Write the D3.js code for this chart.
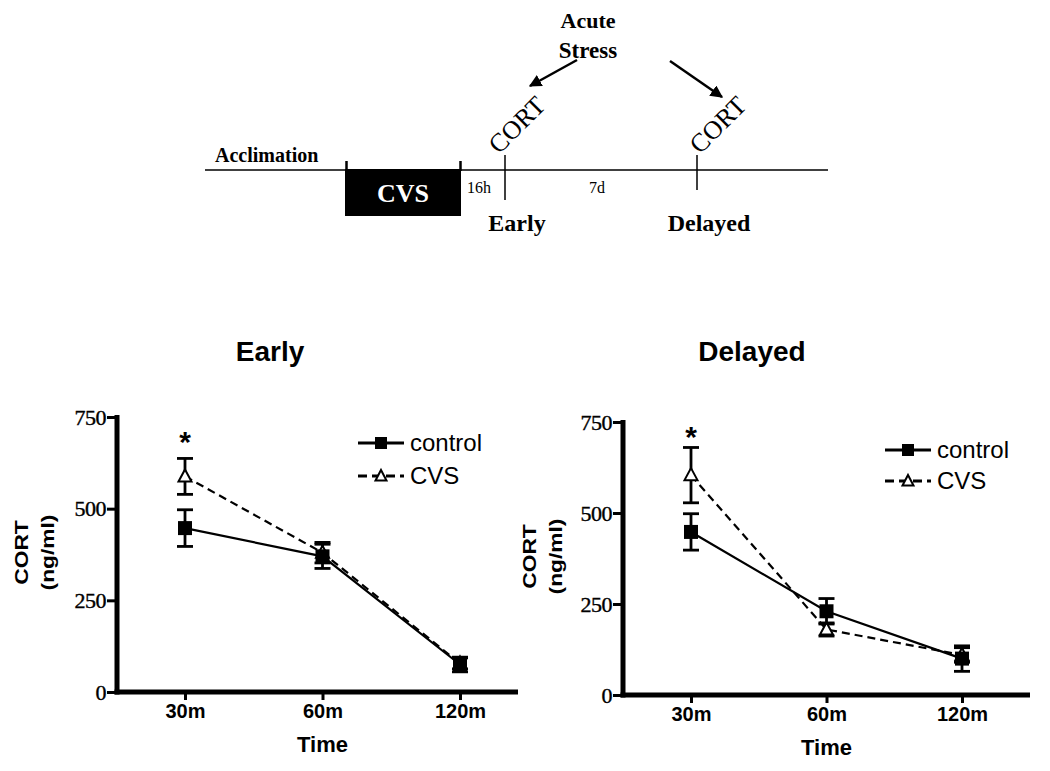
<!DOCTYPE html>
<html>
<head>
<meta charset="utf-8">
<script src="https://cdn.jsdelivr.net/npm/d3@7"></script>
<style>
  body { margin: 0; background: #fff; }
  svg { display: block; }
</style>
</head>
<body>
<div id="graph"></div>
<script>
// data
var timePoints = ["30m", "60m", "120m"];
var yTicks = [0, 250, 500, 750];

var earlyControl = [447, 370, 75];
var earlyControlErr = [50, 33, 20];
var earlyCVS = [588, 380, 78];
var earlyCVSErr = [49, 28, 15];

var delayedControl = [448, 230, 100];
var delayedControlErr = [50, 35, 35];
var delayedCVS = [604, 180, 110];
var delayedCVSErr = [76, 18, 20];

var seriesNames = ["control", "CVS"];

var svg = d3.select("#graph").append("svg")
    .attr("width", 1050)
    .attr("height", 771);

// ---- timeline diagram on top ----
var diag = svg.append("g");
var serif = "'Liberation Serif', 'Times New Roman', serif";

diag.append("line").attr("x1", 205).attr("x2", 828).attr("y1", 170).attr("y2", 170)
    .attr("stroke", "#000").attr("stroke-width", 1.5);
diag.append("rect").attr("x", 345).attr("y", 169).attr("width", 116).attr("height", 47)
    .attr("fill", "#000");
[346.5, 460.5].forEach(function(x) {
  diag.append("line").attr("x1", x).attr("x2", x).attr("y1", 161).attr("y2", 171)
      .attr("stroke", "#000").attr("stroke-width", 2.5);
});
diag.append("text").attr("x", 215).attr("y", 162).text("Acclimation")
    .attr("font-family", serif).attr("font-weight", "bold").attr("font-size", 20);
diag.append("text").attr("x", 403).attr("y", 202).attr("text-anchor", "middle").text("CVS")
    .attr("font-family", serif).attr("font-weight", "bold").attr("font-size", 26).attr("fill", "#fff");
diag.append("text").attr("x", 467).attr("y", 193).text("16h")
    .attr("font-family", serif).attr("font-size", 16);
diag.append("text").attr("x", 589).attr("y", 193).text("7d")
    .attr("font-family", serif).attr("font-size", 16);

// CORT markers
[{x: 505, y2: 200, tx: 499, label: "Early"}, {x: 697, y2: 190, tx: 700, label: "Delayed"}].forEach(function(m) {
  diag.append("line").attr("x1", m.x).attr("x2", m.x).attr("y1", 155).attr("y2", m.y2)
      .attr("stroke", "#000").attr("stroke-width", 1.5);
  diag.append("text").attr("transform", "translate(" + m.tx + ",155) rotate(-45)")
      .text("CORT").attr("font-family", serif).attr("font-size", 26);
  diag.append("text").attr("x", m.x + 12).attr("y", 231).attr("text-anchor", "middle").text(m.label)
      .attr("font-family", serif).attr("font-weight", "bold").attr("font-size", 24);
});

diag.append("text").attr("x", 588).attr("y", 28).attr("text-anchor", "middle").text("Acute")
    .attr("font-family", serif).attr("font-weight", "bold").attr("font-size", 22);
diag.append("text").attr("x", 588).attr("y", 58).attr("text-anchor", "middle").text("Stress")
    .attr("font-family", serif).attr("font-weight", "bold").attr("font-size", 23);

svg.append("defs").append("marker")
    .attr("id", "arrow").attr("viewBox", "0 0 10 10").attr("refX", 9).attr("refY", 5)
    .attr("markerWidth", 5).attr("markerHeight", 5).attr("orient", "auto")
  .append("path").attr("d", "M0,0L10,5L0,10z").attr("fill", "#000");

diag.append("line").attr("x1", 577).attr("y1", 60).attr("x2", 530).attr("y2", 86)
    .attr("stroke", "#000").attr("stroke-width", 2.5).attr("marker-end", "url(#arrow)");
diag.append("line").attr("x1", 670).attr("y1", 61).attr("x2", 722).attr("y2", 97)
    .attr("stroke", "#000").attr("stroke-width", 2.5).attr("marker-end", "url(#arrow)");

// ---- line chart panels ----
var sans = "'Liberation Sans', Arial, sans-serif";

function drawPanel(p) {
  var g = svg.append("g");
  var x = d3.scalePoint().domain(timePoints).range([p.x0, p.x2]);
  var y = d3.scaleLinear().domain([0, 750]).range([p.yBottom, p.yTop]);

  // title
  g.append("text").attr("x", p.titleX).attr("y", 361).attr("text-anchor", "middle")
      .text(p.title).attr("font-family", sans).attr("font-weight", "bold").attr("font-size", 28);

  // y axis
  var yAxis = g.append("g").attr("transform", "translate(" + p.axisX + ",0)")
      .call(d3.axisLeft(y).tickValues(yTicks).tickSize(10).tickPadding(1));
  yAxis.select(".domain").remove();
  yAxis.selectAll(".tick line").attr("stroke-width", 3);
  yAxis.selectAll(".tick text").attr("font-family", serif).attr("font-size", 22)
      .attr("fill", "#000").attr("stroke", "#000").attr("stroke-width", 0.4)
      .attr("letter-spacing", -0.5);

  // x axis
  var xAxis = g.append("g").attr("transform", "translate(0," + p.yBottom + ")")
      .call(d3.axisBottom(x).tickSize(8).tickPadding(4));
  xAxis.select(".domain").remove();
  xAxis.selectAll(".tick line").attr("stroke-width", 3);
  xAxis.selectAll(".tick text").attr("font-family", sans).attr("font-weight", "bold")
      .attr("font-size", 20).attr("fill", "#000");

  g.append("line").attr("x1", p.axisX).attr("x2", p.axisX).attr("y1", y(750) - 2).attr("y2", p.yBottom + 2.5)
      .attr("stroke", "#000").attr("stroke-width", 5);
  g.append("line").attr("x1", p.axisX - 2.5).attr("x2", p.axisEnd).attr("y1", p.yBottom).attr("y2", p.yBottom)
      .attr("stroke", "#000").attr("stroke-width", 5);

  // axis titles
  g.append("text").attr("x", (p.x0 + p.x2) / 2).attr("y", p.yBottom + 60).attr("text-anchor", "middle")
      .text("Time").attr("font-family", sans).attr("font-weight", "bold").attr("font-size", 22);
  var yl = g.append("text")
      .attr("transform", "translate(" + p.ylabX + "," + ((p.yTop + p.yBottom) / 2 - 2) + ") rotate(-90) scale(1.2,1)")
      .attr("text-anchor", "middle").attr("font-family", sans).attr("font-weight", "bold").attr("font-size", 19);
  yl.append("tspan").attr("x", 0).attr("dy", 0).text("CORT");
  yl.append("tspan").attr("x", 0).attr("dy", 26).text("(ng/ml)");

  var line = d3.line().x(function(d, i) { return x(timePoints[i]); }).y(function(d) { return y(d); });

  var series = [
    {vals: p.cvs, err: p.cvsErr, dash: "8,5", marker: "tri"},
    {vals: p.control, err: p.controlErr, dash: null, marker: "sq"}
  ];

  series.forEach(function(s) {
    g.append("path").datum(s.vals).attr("d", line).attr("fill", "none")
        .attr("stroke", "#000").attr("stroke-width", 2.2).attr("stroke-dasharray", s.dash);
  });

  series.forEach(function(s) {
    s.vals.forEach(function(v, i) {
      var cx = x(timePoints[i]);
      var top = y(v + s.err[i]), bot = y(v - s.err[i]);
      g.append("line").attr("x1", cx).attr("x2", cx).attr("y1", top).attr("y2", bot)
          .attr("stroke", "#000").attr("stroke-width", 2.8);
      [top, bot].forEach(function(yy) {
        g.append("line").attr("x1", cx - 8).attr("x2", cx + 8).attr("y1", yy).attr("y2", yy)
            .attr("stroke", "#000").attr("stroke-width", 2.8);
      });
    });
  });

  series.forEach(function(s) {
    s.vals.forEach(function(v, i) {
      var cx = x(timePoints[i]), cy = y(v);
      if (s.marker === "sq") {
        g.append("rect").attr("x", cx - 7).attr("y", cy - 7).attr("width", 14).attr("height", 14).attr("fill", "#000");
      } else {
        g.append("path").attr("transform", "translate(" + cx + "," + cy + ")")
            .attr("d", "M0,-7L6.5,5L-6.5,5Z").attr("fill", "#fff").attr("stroke", "#000").attr("stroke-width", 2);
      }
    });
  });

  // significance star
  g.append("text").attr("x", x(timePoints[0])).attr("y", p.starY).attr("text-anchor", "middle")
      .text("*").attr("font-family", sans).attr("font-weight", "bold").attr("font-size", 30);

  // legend
  seriesNames.forEach(function(name, i) {
    var ly = p.legY + i * p.legGap;
    g.append("line").attr("x1", p.legX).attr("x2", p.legX + 46).attr("y1", ly).attr("y2", ly)
        .attr("stroke", "#000").attr("stroke-width", 2.8).attr("stroke-dasharray", i === 1 ? "9,5" : null);
    if (i === 0) {
      g.append("rect").attr("x", p.legX + 17).attr("y", ly - 6).attr("width", 12).attr("height", 12).attr("fill", "#000");
    } else {
      g.append("path").attr("transform", "translate(" + (p.legX + 23) + "," + ly + ")")
          .attr("d", "M0,-6L5.5,4.5L-5.5,4.5Z").attr("fill", "#fff").attr("stroke", "#000").attr("stroke-width", 2);
    }
    g.append("text").attr("x", p.legX + 52).attr("y", ly + 8).text(name)
        .attr("font-family", sans).attr("font-size", 24);
  });
}

drawPanel({
  title: "Early", titleX: 270,
  axisX: 117, axisEnd: 518, x0: 185, x2: 460,
  yTop: 417, yBottom: 692, ylabX: 28,
  control: earlyControl, controlErr: earlyControlErr,
  cvs: earlyCVS, cvsErr: earlyCVSErr,
  starY: 452, legX: 358, legY: 443, legGap: 33
});

drawPanel({
  title: "Delayed", titleX: 752,
  axisX: 623, axisEnd: 1030, x0: 691, x2: 962,
  yTop: 422, yBottom: 695, ylabX: 536,
  control: delayedControl, controlErr: delayedControlErr,
  cvs: delayedCVS, cvsErr: delayedCVSErr,
  starY: 447, legX: 885, legY: 450, legGap: 31
});
</script>
</body>
</html>
